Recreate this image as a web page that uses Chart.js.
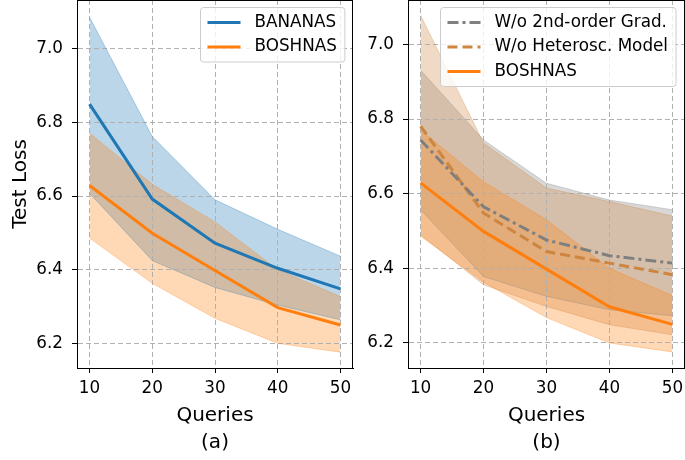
<!DOCTYPE html>
<html>
<head>
<meta charset="utf-8">
<script src="https://cdn.jsdelivr.net/npm/chart.js@4/dist/chart.umd.min.js"></script>
<style>
  html, body { margin: 0; padding: 0; background: #fff; }
  #wrap { position: relative; width: 685px; height: 460px; overflow: hidden; }
  #left { position: absolute; left: 0; top: 0; }
  #right { position: absolute; left: 360px; top: 0; }
</style>
</head>
<body>
<div id="wrap">
  <canvas id="left" width="360" height="460"></canvas>
  <canvas id="right" width="325" height="460"></canvas>
</div>
<script>
// x positions (number of queries) and axis ticks
const queries = [10, 20, 30, 40, 50];
const xTicks = [10, 20, 30, 40, 50];
const yTicks = [6.2, 6.4, 6.6, 6.8, 7.0];

// (a) BANANAS
const bananasMean  = [6.850, 6.592, 6.472, 6.404, 6.348];
const bananasUpper = [7.086, 6.762, 6.590, 6.510, 6.437];
const bananasLower = [6.608, 6.425, 6.352, 6.304, 6.264];

// BOSHNAS (same run in both panels)
const boshnasMean  = [6.629, 6.499, 6.398, 6.297, 6.250];
const boshnasUpper = [6.771, 6.632, 6.530, 6.400, 6.327];
const boshnasLower = [6.486, 6.363, 6.268, 6.200, 6.176];

// (b) ablations
const noGradMean  = [6.744, 6.565, 6.476, 6.434, 6.414];
const noGradUpper = [6.931, 6.744, 6.628, 6.583, 6.557];
const noGradLower = [6.557, 6.378, 6.325, 6.289, 6.273];

const noHeteroMean  = [6.781, 6.548, 6.445, 6.414, 6.383];
const noHeteroUpper = [7.078, 6.736, 6.615, 6.579, 6.540];
const noHeteroLower = [6.490, 6.356, 6.298, 6.249, 6.222];

const FONT = 'DejaVu Sans';
const TICK_SIZE = 16.8;
const BLUE = [31, 119, 180], ORANGE = [255, 127, 14], GRAY = [127, 127, 127], PERU = [205, 133, 63];

function rgba(c, a) {
  return `rgba(${c[0]}, ${c[1]}, ${c[2]}, ${a})`;
}

function pts(arr) {
  return queries.map((q, i) => ({ x: q, y: arr[i] }));
}

// fill_between: upper fills down to the next dataset (lower).
// higher order = painted earlier
function band(upper, lower, c, order) {
  return [
    { data: pts(upper), fill: '+1', backgroundColor: rgba(c, 0.3), borderColor: rgba(c, 0.3),
      borderWidth: 1, pointRadius: 0, order: order },
    { data: pts(lower), fill: false, borderColor: rgba(c, 0.3), borderWidth: 1, pointRadius: 0, order: order }
  ];
}

function line(label, arr, c, dash) {
  return { label: label, data: pts(arr), borderColor: rgba(c, 1), borderWidth: 3, borderDash: dash || [],
           pointRadius: 0, fill: false, order: 0 };
}

// black box round the plot area
const frame = {
  id: 'frame',
  afterDatasetsDraw(chart) {
    const a = chart.chartArea, ctx = chart.ctx;
    ctx.save();
    ctx.strokeStyle = '#000';
    ctx.lineWidth = 1;
    ctx.strokeRect(Math.round(a.left) + 0.5, Math.round(a.top) + 0.5,
                   Math.round(a.right - a.left) - 1, Math.round(a.bottom - a.top));
    ctx.restore();
  }
};

// matplotlib-like legend inside the upper right corner
const boxLegend = {
  id: 'boxLegend',
  afterDraw(chart) {
    const a = chart.chartArea, ctx = chart.ctx;
    const items = chart.data.datasets.filter(d => d.label);
    ctx.save();
    ctx.font = `${TICK_SIZE}px "${FONT}"`;
    const textW = Math.max(...items.map(d => ctx.measureText(d.label).width));
    const w = 7 + 33 + 14 + textW + 8;
    const h = 30 + (items.length - 1) * 24.5;
    const x0 = Math.round(a.right - 9 - w) + 0.5, y0 = Math.round(a.top + 7) + 0.5;
    ctx.beginPath();
    ctx.roundRect(x0, y0, w, h, 3);
    ctx.fillStyle = 'rgba(255, 255, 255, 0.8)';
    ctx.fill();
    ctx.strokeStyle = '#cccccc';
    ctx.lineWidth = 1;
    ctx.stroke();
    items.forEach((d, i) => {
      const cy = y0 + 15 + i * 24.5;
      ctx.beginPath();
      ctx.setLineDash(d.borderDash || []);
      ctx.strokeStyle = d.borderColor;
      ctx.lineWidth = d.borderWidth;
      ctx.moveTo(x0 + 7, cy);
      ctx.lineTo(x0 + 40, cy);
      ctx.stroke();
      ctx.setLineDash([]);
      ctx.fillStyle = '#000';
      ctx.textBaseline = 'middle';
      ctx.textAlign = 'left';
      ctx.fillText(d.label, x0 + 54, cy);
    });
    ctx.restore();
  }
};

function makeOptions(panel, yMax, yWidth, yTitle, rightPad) {
  const grid = { color: '#b0b0b0', lineWidth: 1, tickLength: 5, tickColor: '#000' };
  const border = { color: '#000', width: 1, dash: [5, 3] };
  return {
    responsive: false,
    animation: false,
    layout: { padding: { left: 0, right: rightPad, top: 0, bottom: 0 } },
    plugins: {
      legend: { display: false },
      tooltip: { enabled: false },
      filler: { drawTime: 'beforeDraw' }
    },
    scales: {
      x: {
        type: 'linear', min: 8, max: 52,
        afterBuildTicks: s => { s.ticks = xTicks.map(v => ({ value: v })); },
        afterFit: s => { s.height = 92; s.paddingLeft = 0; s.paddingRight = 0; },
        grid: grid, border: border,
        ticks: { color: '#000', font: { family: FONT, size: TICK_SIZE }, padding: 6, autoSkip: false, maxRotation: 0,
                 callback: v => String(v) },
        title: { display: true, text: ['Queries', panel], color: '#000',
                 font: { family: FONT, size: 20, lineHeight: 1.35 }, padding: { top: 0, bottom: 4 } }
      },
      y: {
        type: 'linear', min: 6.133, max: yMax,
        afterBuildTicks: s => { s.ticks = yTicks.map(v => ({ value: v })); },
        afterFit: s => { s.width = yWidth; s.paddingTop = 0; s.paddingBottom = 0; },
        grid: grid, border: border,
        ticks: { color: '#000', font: { family: FONT, size: TICK_SIZE }, padding: 9, callback: v => v.toFixed(1) },
        title: { display: !!yTitle, text: yTitle || '', color: '#000',
                 font: { family: FONT, size: 20 }, padding: { top: 9, bottom: 0 } }
      }
    }
  };
}

new Chart(document.getElementById('left'), {
  type: 'line',
  data: {
    datasets: [
      line('BANANAS', bananasMean, BLUE),
      line('BOSHNAS', boshnasMean, ORANGE),
      ...band(bananasUpper, bananasLower, BLUE, 3),
      ...band(boshnasUpper, boshnasLower, ORANGE, 2)
    ]
  },
  options: makeOptions('(a)', 7.133, 77, 'Test Loss', 7),
  plugins: [frame, boxLegend]
});

new Chart(document.getElementById('right'), {
  type: 'line',
  data: {
    datasets: [
      line('W/o 2nd-order Grad.', noGradMean, GRAY, [11, 4, 3, 4]),
      line('W/o Heterosc. Model', noHeteroMean, PERU, [10, 5]),
      line('BOSHNAS', boshnasMean, ORANGE),
      ...band(noGradUpper, noGradLower, GRAY, 4),
      ...band(noHeteroUpper, noHeteroLower, PERU, 3),
      ...band(boshnasUpper, boshnasLower, ORANGE, 2)
    ]
  },
  options: makeOptions('(b)', 7.119, 48, null, 0),
  plugins: [frame, boxLegend]
});
</script>
</body>
</html>
